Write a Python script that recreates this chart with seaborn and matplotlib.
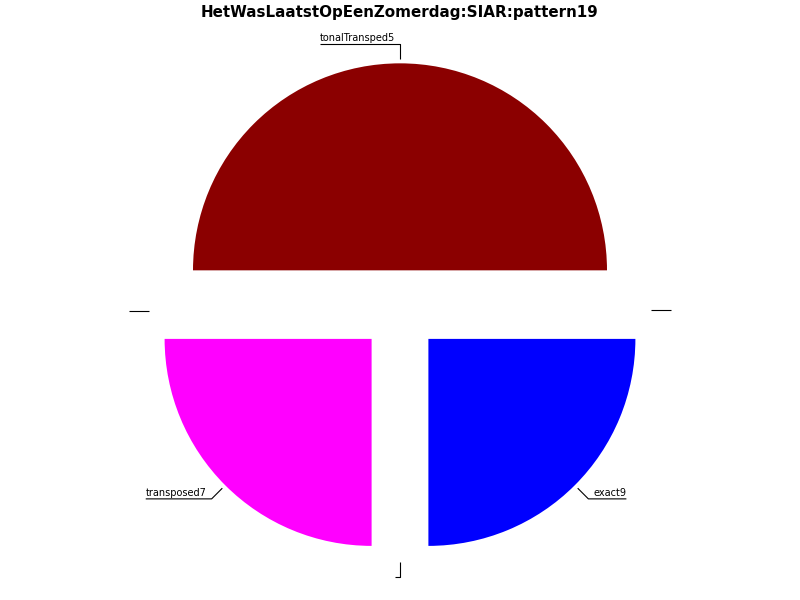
import numpy as np
import matplotlib
matplotlib.use("Agg")
import matplotlib.pyplot as plt
import seaborn as sns

title = "HetWasLaatstOpEenZomerdag:SIAR:pattern19"
labels = ["tonalTransped5", "", "transposed7", "", "exact9", ""]
values = [2, 0, 1, 0, 1, 0]
colors = ["#8b0000", "#ffffff", "#ff00ff", "#ffffff", "#0000ff", "#ffffff"]

sns.set_theme(style="white")
plt.rcParams["font.family"] = ["DejaVu Sans"]

fig = plt.figure(figsize=(8, 6), dpi=100)
ax = fig.add_axes([0, 0, 1, 1])
R = 207.0  # pixels per data unit
wedges, _ = ax.pie(values, colors=colors, startangle=0, counterclock=True,
                   explode=[0.194] * len(values), radius=1,
                   wedgeprops=dict(linewidth=0))
cy_pix = 310.5
ax.set_xlim(-400 / R, 400 / R)
ax.set_ylim(-(600 - cy_pix) / R, cy_pix / R)
ax.set_aspect("equal")
ax.axis("off")

fig.canvas.draw()
renderer = fig.canvas.get_renderer()
pad = 5 / R
for w, lab in zip(wedges, labels):
    mid = (w.theta1 + w.theta2) / 2
    ang = np.deg2rad(mid)
    cx, cy = w.center
    c, s = np.cos(ang), np.sin(ang)
    p1 = (cx + 1.02 * c, cy + 1.02 * s)
    p2 = (cx + 1.093 * c, cy + 1.093 * s)
    side = 1 if c > 1e-6 else -1
    t = ax.text(0, 0, lab, fontsize=7, ha="left", va="bottom", color="black")
    tw = t.get_window_extent(renderer).width / R if lab else 0.0
    x_end = p2[0] + side * (tw + pad)
    ax.plot([p1[0], p2[0], x_end], [p1[1], p2[1], p2[1]], color="black", lw=0.8,
            solid_capstyle="butt")
    tx = p2[0] - tw - pad if side < 0 else p2[0] + pad
    t.set_position((tx, p2[1] + 1.0 / R))

fig.text(0.5, 1 - 13 / 600, title, ha="center", va="center", color="black",
         fontsize=10.9, fontweight="bold")
fig.savefig("out.png", dpi=100)
